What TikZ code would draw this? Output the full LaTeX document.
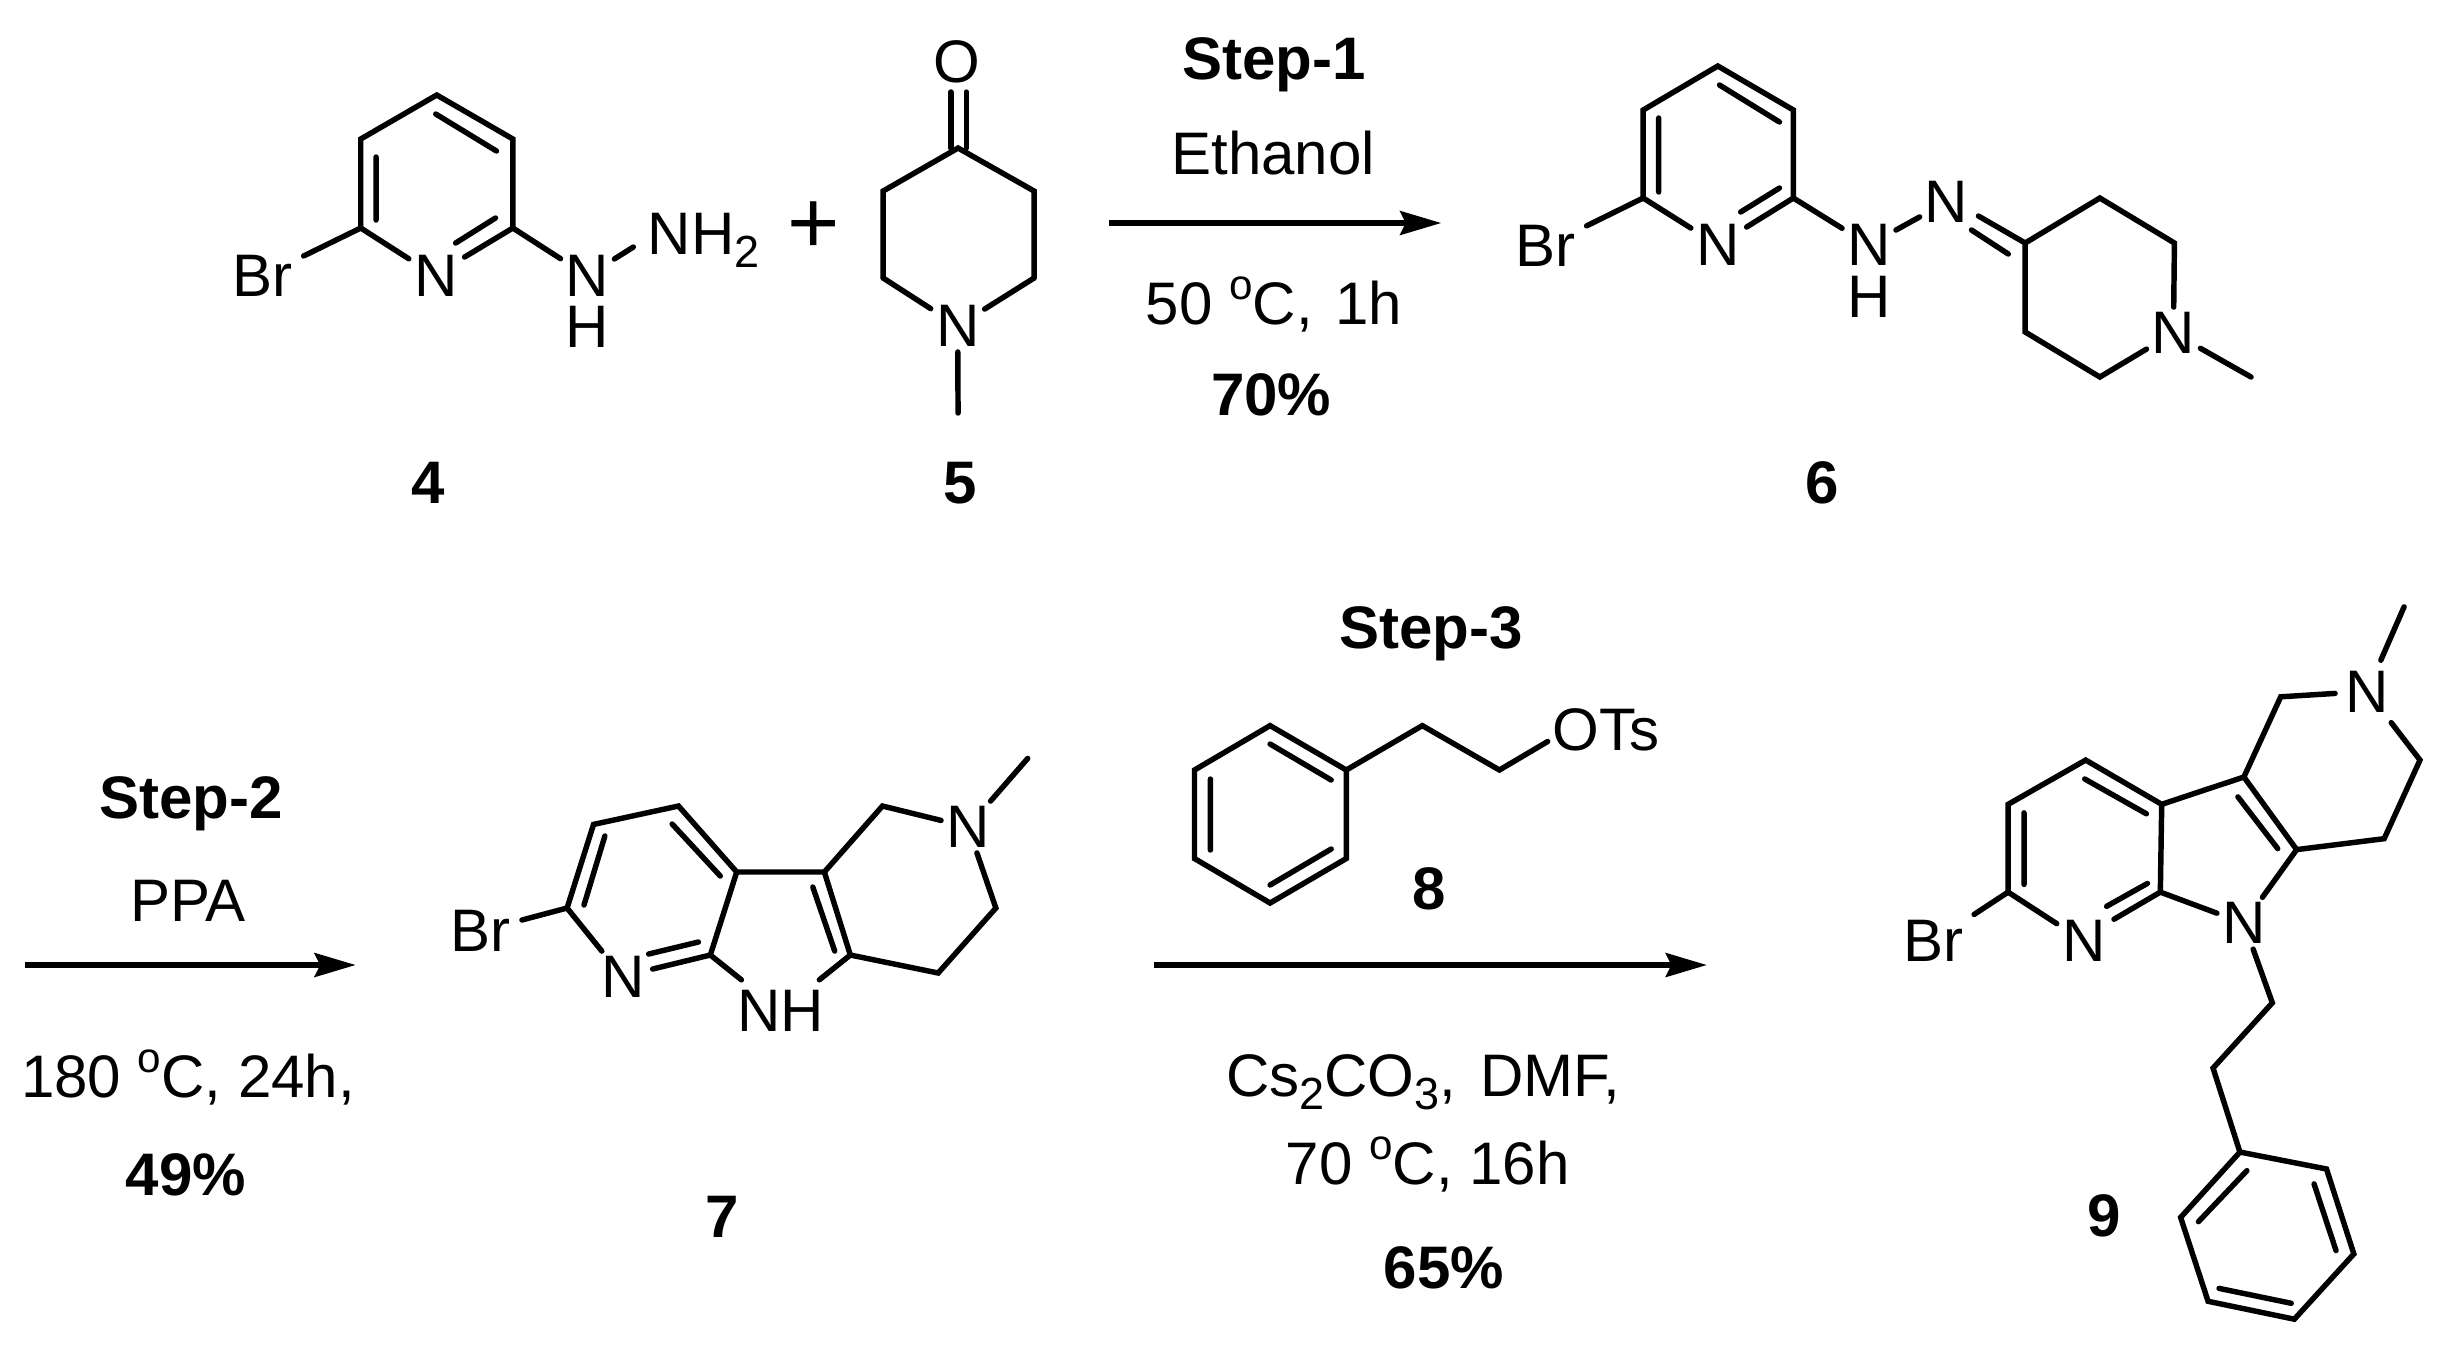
\documentclass[tikz,border=0pt]{standalone}
\usepackage{fontspec}
\setmainfont{Liberation Sans}
\usetikzlibrary{arrows.meta}
\newcommand\chemsub[1]{\raisebox{-3.7pt}{\fontsize{12.8}{13}\selectfont #1}}
\newcommand\chemsup[1]{\raisebox{7pt}{\fontsize{12}{13}\selectfont #1}}
\begin{document}
\begin{tikzpicture}[x=0.01cm,y=-0.01cm,
  bond/.style={line width=1.55pt,line cap=round,line join=miter},
  atom/.style={inner sep=0pt,outer sep=1.5pt,font=\fontsize{17.07}{20}\selectfont},
  brbond/.style={bond,shorten >=1.8pt},
  txt/.style={inner sep=0pt,outer sep=0pt,anchor=base,font=\fontsize{17.07}{20}\selectfont},
  boldtxt/.style={txt,font=\fontsize{17.07}{20}\selectfont\bfseries},
  rxn/.style={line width=1.45pt,-{Stealth[length=11.7pt,width=6.8pt,inset=1.6pt]}}]
\useasboundingbox (0,0) rectangle (2444,1353);

\begin{scope}[shift={(1,0)},xscale=.9949]
% ---- compound 4
\coordinate (a1) at (438,95); \coordinate (a2) at (514.5,139); \coordinate (a3) at (514.5,228);
\coordinate (a5) at (361.6,228); \coordinate (a6) at (361.6,139);
\node[atom] (aN) at (437,276) {N};
\node[atom] (aBr) at (263,276) {Br};
\node[atom] (aNH) at (589.5,276) {N};
\node[atom] (aH) at (589.5,327) {H};
\node[txt,anchor=base west] (aNH2) at (650,254) {NH\chemsub{2}};
\coordinate (ann) at (635.6,247);
\draw[bond] (a5)--(a6)--(a1)--(a2)--(a3);
\draw[bond] (a5)--(aN);
\draw[brbond] (a5)--(aBr);
\draw[bond] (a3)--(aNH);
\draw[bond] (aNH)--(ann);
\coordinate (ad1a) at (514.5,228); \coordinate (ad1b) at (466,257);
\coordinate (ad2a) at (497,218); \coordinate (ad2b) at (457,243);
\draw[bond] (ad1a)--(ad1b) (ad2a)--(ad2b);
\coordinate (ai1a) at (377,157); \coordinate (ai1b) at (377,220);
\coordinate (ai2a) at (437,114); \coordinate (ai2b) at (498,151);
\draw[bond] (ai1a)--(ai1b) (ai2a)--(ai2b);
\node[boldtxt] (lab4) at (429.6,503) {4};

\node[inner sep=0pt,font=\fontsize{25.5}{27}\selectfont] (plus) at (817,228) {+};

% ---- compound 5
\coordinate (b1) at (962,148); \coordinate (b2) at (1038.4,191); \coordinate (b3) at (1038.4,278);
\coordinate (b5) at (886.7,278); \coordinate (b6) at (886.7,191);
\node[atom] (bN) at (961.6,326) {N};
\node[atom] (bO) at (960.5,62) {O};
\coordinate (bMe) at (962,413);
\draw[bond] (b3)--(b2)--(b1)--(b6)--(b5);
\draw[bond] (b5)--(bN) (b3)--(bN) (bN)--(bMe);
\coordinate (bo1a) at (954.7,92); \coordinate (bo1b) at (954.7,148);
\coordinate (bo2a) at (970.3,92); \coordinate (bo2b) at (970.3,148);
\draw[bond] (bo1a)--(bo1b) (bo2a)--(bo2b);
\node[boldtxt] (lab5) at (964.6,503) {5};
\end{scope}

\begin{scope}[shift={(5.6,0)},xscale=.9949]
% ---- step 1
\node[boldtxt] (s1) at (1275,79) {Step-1};
\node[txt] (s1a) at (1274,174) {Ethanol};
\node[txt] (s1b) at (1275,324) {50 \chemsup{o}C,\hspace{.38em}1h};
\node[boldtxt] (s1c) at (1272,415) {70\%};
\coordinate (r1a) at (1108.6,223); \coordinate (r1b) at (1443,223);
\draw[rxn] (r1a)--(r1b);

% ---- compound 6
\coordinate (c1) at (1721,66); \coordinate (c2) at (1797,110); \coordinate (c3) at (1797,198);
\coordinate (c5) at (1646,198); \coordinate (c6) at (1646,110);
\node[atom] (cN) at (1721,245) {N};
\node[atom] (cBr) at (1548,246) {Br};
\node[atom] (cNH) at (1873,245) {N};
\node[atom] (cH) at (1873,297) {H};
\node[atom] (cN2) at (1951,202) {N};
\coordinate (p1) at (2030,243); \coordinate (p2) at (2105,198); \coordinate (p3) at (2180,243);
\node[atom] (pN) at (2179,333) {N};
\coordinate (p5) at (2105,377); \coordinate (p6) at (2030,332);
\coordinate (pMe) at (2257,377);
\draw[bond] (c5)--(c6)--(c1)--(c2)--(c3);
\draw[bond] (c5)--(cN) (c3)--(cNH) (cNH)--(cN2);
\draw[brbond] (c5)--(cBr);
\coordinate (cd1a) at (1797,198); \coordinate (cd1b) at (1750,227);
\coordinate (cd2a) at (1783,188); \coordinate (cd2b) at (1744,212);
\draw[bond] (cd1a)--(cd1b) (cd2a)--(cd2b);
\coordinate (ci1a) at (1661.6,118); \coordinate (ci1b) at (1661.6,192);
\coordinate (ci2a) at (1722.7,85); \coordinate (ci2b) at (1783,122);
\draw[bond] (ci1a)--(ci1b) (ci2a)--(ci2b);
\coordinate (cc1a) at (1983,216); \coordinate (cc2a) at (1976,230); \coordinate (cc2b) at (2013,254);
\draw[bond] (cc1a)--(p1) (cc2a)--(cc2b);
\draw[bond] (pN)--(p3)--(p2)--(p1)--(p6)--(p5)--(pN);
\draw[bond] (pN)--(pMe);
\node[boldtxt] (lab6) at (1826,503) {6};
\end{scope}

\begin{scope}[xscale=.9949]
% ---- step 2
\node[boldtxt] (s2) at (192,818) {Step-2};
\node[txt] (s2a) at (189,921) {PPA};
\node[txt] (s2b) at (189,1097) {180 \chemsup{o}C, 24h,};
\node[boldtxt] (s2c) at (187,1195) {49\%};
\coordinate (r2a) at (25,965); \coordinate (r2b) at (357.5,965);
\draw[rxn] (r2a)--(r2b);

% ---- compound 7
\coordinate (dA) at (682,806); \coordinate (dB) at (596.6,824.4); \coordinate (dC) at (570,908);
\node[atom] (dN) at (626,977) {N};
\coordinate (dD) at (714,955); \coordinate (dE) at (740.5,872); \coordinate (dF) at (828.6,872);
\coordinate (dG) at (854.7,955);
\node[atom,outer sep=3pt] (dNH) at (784.5,1011) {NH};
\coordinate (dH) at (943,973); \coordinate (dI) at (1001,908);
\node[atom] (dNMe) at (973,827) {N};
\coordinate (dJ) at (887,806); \coordinate (dMe) at (1033,758.4);
\node[atom] (dBr) at (483,931) {Br};
\draw[bond] (dN)--(dC)--(dB)--(dA)--(dE)--(dD)--(dNH)--(dG)--(dF)--(dE);
\draw[bond] (dF)--(dJ)--(dNMe)--(dI)--(dH)--(dG);
\draw[bond] (dNMe)--(dMe);
\draw[brbond] (dC)--(dBr);
\coordinate (dd1a) at (714,955); \coordinate (dd1b) at (656,969);
\coordinate (dd2a) at (702,942); \coordinate (dd2b) at (652,954);
\draw[bond] (dd1a)--(dd1b) (dd2a)--(dd2b);
\coordinate (di1a) at (608,836); \coordinate (di1b) at (587,905);
\coordinate (di2a) at (675.6,824); \coordinate (di2b) at (724,876);
\coordinate (di3a) at (817,887); \coordinate (di3b) at (839,951);
\draw[bond] (di1a)--(di1b) (di2a)--(di2b) (di3a)--(di3b);
\node[boldtxt] (lab7) at (726,1237) {7};
\end{scope}

\begin{scope}[shift={(5.6,0)},xscale=.9949]
% ---- step 3 with reagent 8
\node[boldtxt] (s3) at (1433,648) {Step-3};
\coordinate (e1) at (1271,725.6); \coordinate (e2) at (1347.6,770); \coordinate (e3) at (1347.6,858.5);
\coordinate (e4) at (1271,903); \coordinate (e5) at (1195,858.5); \coordinate (e6) at (1195,770);
\coordinate (e7) at (1424,725.6); \coordinate (e8) at (1501.5,770);
\node[txt,anchor=base west] (eOTs) at (1555,750) {OTs};
\coordinate (eO) at (1550,741.5);
\draw[bond] (e1)--(e2)--(e3)--(e4)--(e5)--(e6)--cycle;
\draw[bond] (e2)--(e7)--(e8)--(eO);
\coordinate (ei1a) at (1271,744); \coordinate (ei1b) at (1332.4,780);
\coordinate (ei2a) at (1211,779); \coordinate (ei2b) at (1211,850);
\coordinate (ei3a) at (1271,885); \coordinate (ei3b) at (1332.4,849);
\draw[bond] (ei1a)--(ei1b) (ei2a)--(ei2b) (ei3a)--(ei3b);
\node[boldtxt] (lab8) at (1430.6,909) {8};
\coordinate (r3a) at (1154.7,965); \coordinate (r3b) at (1710,965);
\draw[rxn] (r3a)--(r3b);
\node[txt] (s3a) at (1425,1096) {Cs\chemsub{2}CO\chemsub{3},\hspace{.4em}DMF,};
\node[txt] (s3b) at (1429.5,1184) {70 \chemsup{o}C, 16h};
\node[boldtxt] (s3c) at (1445.5,1288) {65\%};
\end{scope}

\begin{scope}[shift={(9.4,2.96)},scale=.9949]
% ---- compound 9
\coordinate (fA) at (2087,761); \coordinate (fB) at (2009,805.5); \coordinate (fC) at (2009,893.7);
\node[atom] (fN) at (2085,943) {N};
\coordinate (fD) at (2162,893.7); \coordinate (fE) at (2163.4,805.5); \coordinate (fF) at (2246,778);
\coordinate (fG) at (2299,851);
\node[atom] (fN9) at (2246,925) {N};
\coordinate (fH) at (2387,840); \coordinate (fI) at (2423,761);
\node[atom,outer sep=3pt] (fNMe) at (2370,692) {N};
\coordinate (fJ) at (2283,697.4); \coordinate (fMe) at (2407,607);
\node[atom] (fBr) at (1934,943) {Br};
\draw[bond] (fN)--(fC)--(fB)--(fA)--(fE)--(fD)--(fN9)--(fG)--(fF)--(fE);
\draw[bond] (fF)--(fJ)--(fNMe)--(fI)--(fH)--(fG);
\draw[bond] (fNMe)--(fMe);
\draw[brbond] (fC)--(fBr);
\coordinate (fd1a) at (2162,893.7); \coordinate (fd1b) at (2115.4,921);
\coordinate (fd2a) at (2149,885); \coordinate (fd2b) at (2108,908);
\draw[bond] (fd1a)--(fd1b) (fd2a)--(fd2b);
\coordinate (fi1a) at (2025,814); \coordinate (fi1b) at (2025,886);
\coordinate (fi2a) at (2086,780); \coordinate (fi2b) at (2148,815);
\coordinate (fi3a) at (2240,798); \coordinate (fi3b) at (2280,850);
\draw[bond] (fi1a)--(fi1b) (fi2a)--(fi2b) (fi3a)--(fi3b);
\coordinate (g0) at (2274.6,1005); \coordinate (g1) at (2215,1070.6); \coordinate (g2) at (2242,1155);
\coordinate (g3) at (2329,1172); \coordinate (g4) at (2356.5,1257.4); \coordinate (g5) at (2296.7,1323);
\coordinate (g6) at (2210,1305); \coordinate (g7) at (2182.4,1220.7);
\draw[bond] (fN9)--(g0)--(g1)--(g2);
\draw[bond] (g2)--(g3)--(g4)--(g5)--(g6)--(g7)--cycle;
\coordinate (gi1a) at (2249,1173.7); \coordinate (gi1b) at (2200.3,1225);
\coordinate (gi2a) at (2316.5,1187); \coordinate (gi2b) at (2338.6,1254);
\coordinate (gi3a) at (2293.6,1307); \coordinate (gi3b) at (2221,1292);
\draw[bond] (gi1a)--(gi1b) (gi2a)--(gi2b) (gi3a)--(gi3b);
\node[boldtxt] (lab9) at (2106,1240) {9};
\end{scope}
\end{tikzpicture}
\end{document}
